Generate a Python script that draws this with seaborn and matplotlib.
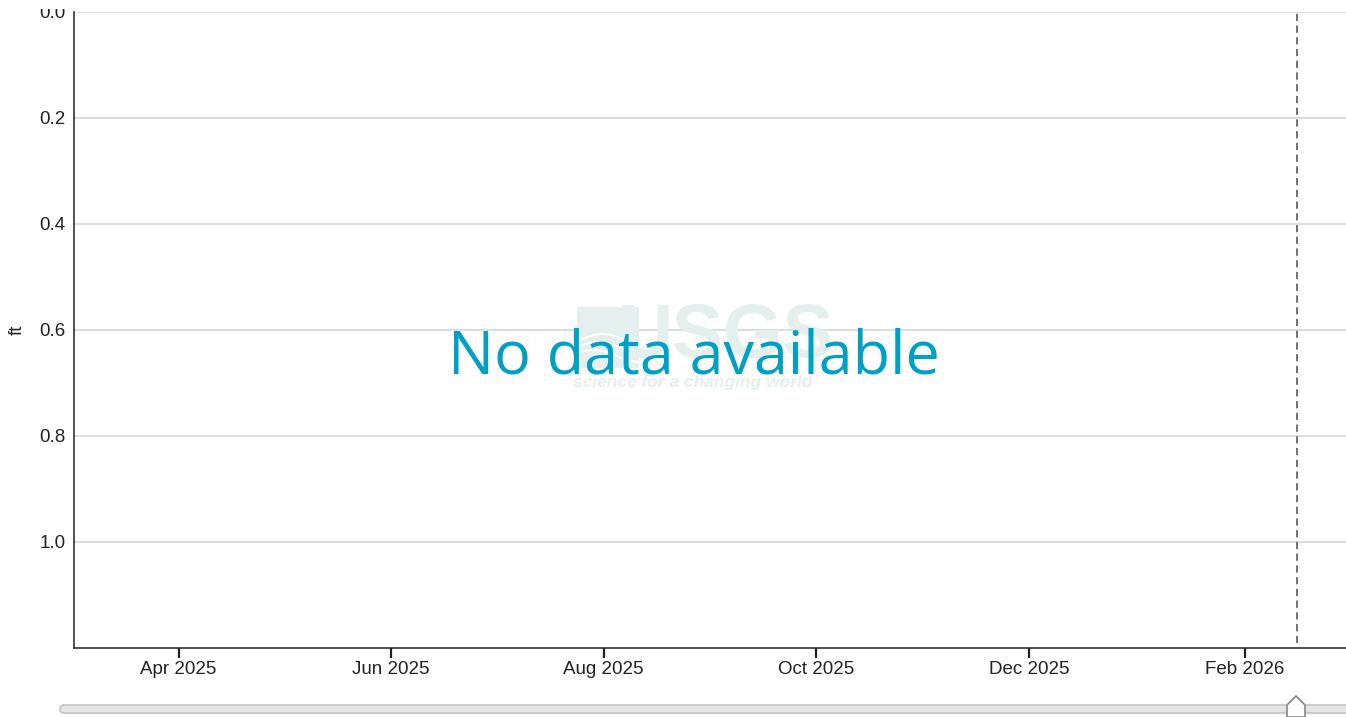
import pandas as pd
import numpy as np
import matplotlib
matplotlib.use("Agg")
import matplotlib.pyplot as plt
import matplotlib.dates as mdates
from matplotlib.patches import FancyBboxPatch, Polygon, Rectangle
import seaborn as sns

# Chart data (no observations in this window)
obs_dates = []
obs_values = []
x_start = "2025-03-02"
x_end = "2026-03-02"
tick_dates = ["2025-04-01", "2025-06-01", "2025-08-01", "2025-10-01", "2025-12-01", "2026-02-01"]
y_ticks = [0.0, 0.2, 0.4, 0.6, 0.8, 1.0]
y_limits = [1.2, 0.0]
today = "2026-02-16"
message = "No data available"
y_label = "ft"

sns.set_theme(style="white")
plt.rcParams["font.family"] = ["Liberation Sans", "DejaVu Sans"]

W, H = 1346, 717
WM = "#e5f0ee"  # watermark colour
fig = plt.figure(figsize=(W / 100, H / 100), dpi=100)
ax = fig.add_axes([74 / W, (H - 648) / H, 1 - 74 / W, (648 - 12) / H])

df = pd.DataFrame({"date": pd.to_datetime(obs_dates), "ft": pd.Series(obs_values, dtype=float)})
if len(df):
    sns.lineplot(data=df, x="date", y="ft", ax=ax, color="#1f77b4")

ax.set_xlim(pd.Timestamp(x_start), pd.Timestamp(x_end))
ax.set_ylim(*y_limits)
ax.set_xticks([pd.Timestamp(d) for d in tick_dates])
ax.xaxis.set_major_formatter(mdates.DateFormatter("%b %Y"))
ax.set_yticks(y_ticks)
ax.set_yticklabels([f"{v:.1f}" for v in y_ticks])

ax.grid(axis="y", color="#dedede", linewidth=1.5)
ax.grid(axis="x", visible=False)
ax.set_axisbelow(True)

sns.despine(ax=ax, top=True, right=True)
for s in ["left", "bottom"]:
    ax.spines[s].set_color("#222222")
    ax.spines[s].set_linewidth(1.1)

ax.tick_params(axis="x", bottom=True, direction="out", length=7, width=1.6, color="#222222",
               labelsize=13.5, pad=2.5, labelcolor="#222222")
ax.tick_params(axis="y", left=False, length=0, labelsize=13.5, pad=6, labelcolor="#222222")
ax.set_xlabel("")
ax.set_ylabel(y_label, fontsize=13.5, color="#222222", labelpad=10)

# today marker
ax.axvline(pd.Timestamp(today), ymin=0.008, ymax=1, color="#666666",
           linewidth=1.3, linestyle=(0, (4, 2.5)))

# faint USGS watermark
wm = fig.add_axes([0, 0, 1, 1], facecolor="none", zorder=0.5)
wm.set_xlim(0, W)
wm.set_ylim(H, 0)
wm.axis("off")
wm.add_patch(Rectangle((577, 307), 62, 61, facecolor=WM, edgecolor="none"))
wx = np.linspace(580, 639, 40)
for k, off in enumerate([340, 348, 356]):
    wy = off - 6 * np.sin((wx - 580) / 59 * np.pi * 1.3 + k * 0.3)
    wm.plot(wx, wy, color="white", linewidth=1.4)
wm.text(726, 337, "USGS", fontsize=55, fontweight="bold",
        color=WM, ha="center", va="center")
wm.text(693, 383, "science for a changing world", fontsize=12.5,
        fontweight="bold", fontstyle="italic", color=WM, ha="center", va="center")

# message
fig.text(694 / W, (H - 357) / H, message, fontsize=44, family=["Open Sans", "DejaVu Sans"],
         color="#00a0c6", ha="center", va="center", zorder=5)

# range slider and clipped top strip
sl = fig.add_axes([0, 0, 1, 1], facecolor="none")
sl.set_xlim(0, W)
sl.set_ylim(H, 0)
sl.axis("off")
sl.add_patch(Rectangle((0, 0), 72, 9, facecolor="white", edgecolor="none"))
sl.add_patch(FancyBboxPatch((60, 705), 1300, 8, boxstyle="round,pad=0,rounding_size=4",
                            facecolor="#e4e4e4", edgecolor="#c4c4c4", linewidth=1.2))
hx = 1296
sl.add_patch(Polygon([(hx - 9, 717), (hx - 9, 705), (hx, 696), (hx + 9, 705), (hx + 9, 717)],
                     closed=True, facecolor="white", edgecolor="#888888", linewidth=1.2))

fig.savefig("out.png", dpi=100)
